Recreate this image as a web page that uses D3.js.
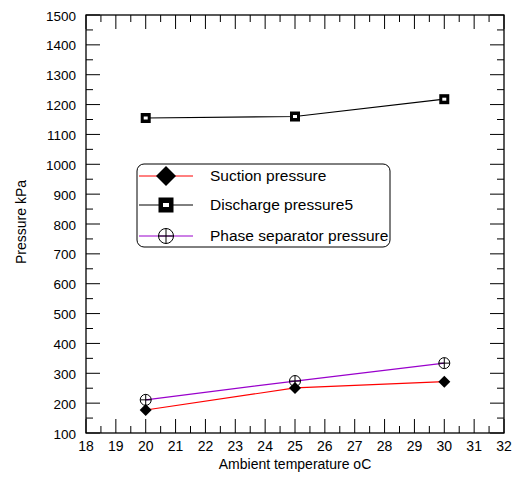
<!DOCTYPE html>
<html><head><meta charset="utf-8">
<script src="https://cdn.jsdelivr.net/npm/d3@7"></script>
<style>body{margin:0;background:#fff}text{font-family:"Liberation Sans",Arial,sans-serif}</style>
</head><body><svg id="c" width="512" height="479"></svg>
<script>
const temps = [20, 25, 30];
const suction = [177, 251, 272];
const discharge = [1155, 1160, 1218];
const phaseSep = [211, 274, 334];
const seriesNames = ["Suction pressure", "Discharge pressure5", "Phase separator pressure"];
const xTicks = d3.range(18, 33, 1);
const yTicks = d3.range(100, 1501, 100);

const svg = d3.select("#c");
const L = 86, R = 504, T = 15, B = 433;
const x = d3.scaleLinear().domain([18, 32]).range([L, R]);
const y = d3.scaleLinear().domain([100, 1500]).range([B, T]);
const font = 14;

svg.append("rect").attr("x", L).attr("y", T).attr("width", R - L).attr("height", B - T)
  .attr("fill", "none").attr("stroke", "#000").attr("stroke-width", 1.3);

// ticks
const xMinor = d3.range(18, 32.01, 0.5);
const yMinor = d3.range(100, 1500.1, 50);
const g = svg.append("g").attr("stroke", "#000").attr("stroke-width", 1);
xMinor.forEach(v => {
  const len = Math.abs(v - Math.round(v)) < 1e-6 ? 14 : 7;
  g.append("line").attr("x1", x(v)).attr("x2", x(v)).attr("y1", B).attr("y2", B - len);
  g.append("line").attr("x1", x(v)).attr("x2", x(v)).attr("y1", T).attr("y2", T + len);
});
yMinor.forEach(v => {
  const len = v % 100 === 0 ? 14 : 7;
  g.append("line").attr("y1", y(v)).attr("y2", y(v)).attr("x1", L).attr("x2", L + len);
  g.append("line").attr("y1", y(v)).attr("y2", y(v)).attr("x1", R).attr("x2", R - len);
});
xTicks.forEach(v => svg.append("text").attr("x", x(v)).attr("y", B + 18).attr("text-anchor", "middle")
  .attr("font-size", font).text(v));
yTicks.forEach(v => svg.append("text").attr("x", L - 10).attr("y", y(v) + 5.5).attr("text-anchor", "end")
  .attr("font-size", 13.5).text(v));

svg.append("text").attr("x", 295).attr("y", 469).attr("text-anchor", "middle")
  .attr("font-size", font).text("Ambient temperature oC");
svg.append("text").attr("transform", "translate(26,222) rotate(-90)")
  .attr("text-anchor", "middle").attr("font-size", font).text("Pressure kPa");

const line = d3.line().x(d => x(d[0])).y(d => y(d[1]));
const colors = ["#ff0000", "#000000", "#9900cc"];
const data = [suction, discharge, phaseSep].map(s => temps.map((t, i) => [t, s[i]]));

function diamond(sel, cx, cy, r) {
  sel.append("path").attr("d", `M${cx},${cy - r}L${cx + r},${cy}L${cx},${cy + r}L${cx - r},${cy}Z`).attr("fill", "#000");
}
function square(sel, cx, cy, s, iw, ih) {
  sel.append("rect").attr("x", cx - s / 2).attr("y", cy - s / 2).attr("width", s).attr("height", s).attr("fill", "#000");
  sel.append("rect").attr("x", cx - iw / 2).attr("y", cy - ih / 2).attr("width", iw).attr("height", ih).attr("fill", "#fff");
}
function circ(sel, cx, cy, r) {
  sel.append("circle").attr("cx", cx).attr("cy", cy).attr("r", r).attr("fill", "none").attr("stroke", "#000").attr("stroke-width", 1);
  sel.append("line").attr("x1", cx - r).attr("x2", cx + r).attr("y1", cy).attr("y2", cy).attr("stroke", "#000");
  sel.append("line").attr("x1", cx).attr("x2", cx).attr("y1", cy - r).attr("y2", cy + r).attr("stroke", "#000");
}
const drawers = [
  (s, cx, cy, big) => diamond(s, cx, cy, big ? 10 : 6),
  (s, cx, cy, big) => big ? square(s, cx, cy, 15, 6, 4) : square(s, cx, cy, 10, 4, 3),
  (s, cx, cy, big) => circ(s, cx, cy, big ? 7.5 : 5.5)
];

data.forEach((d, k) => {
  svg.append("path").attr("d", line(d)).attr("fill", "none").attr("stroke", colors[k]).attr("stroke-width", 1.2);
});
data.forEach((d, k) => {
  d.forEach(p => drawers[k](svg, x(p[0]), y(p[1]), false));
});

// legend
const lg = svg.append("g");
lg.append("rect").attr("x", 137).attr("y", 164).attr("width", 253).attr("height", 83).attr("rx", 7)
  .attr("fill", "#fff").attr("stroke", "#000").attr("stroke-width", 1);
const rows = [176, 205, 236];
seriesNames.forEach((n, k) => {
  lg.append("line").attr("x1", 139).attr("x2", 193).attr("y1", rows[k]).attr("y2", rows[k]).attr("stroke", colors[k]).attr("stroke-width", 1);
  drawers[k](lg, 166, rows[k], true);
  lg.append("text").attr("x", 210).attr("y", rows[k] + 5).attr("font-size", 15.5).text(n);
});
</script></body></html>
